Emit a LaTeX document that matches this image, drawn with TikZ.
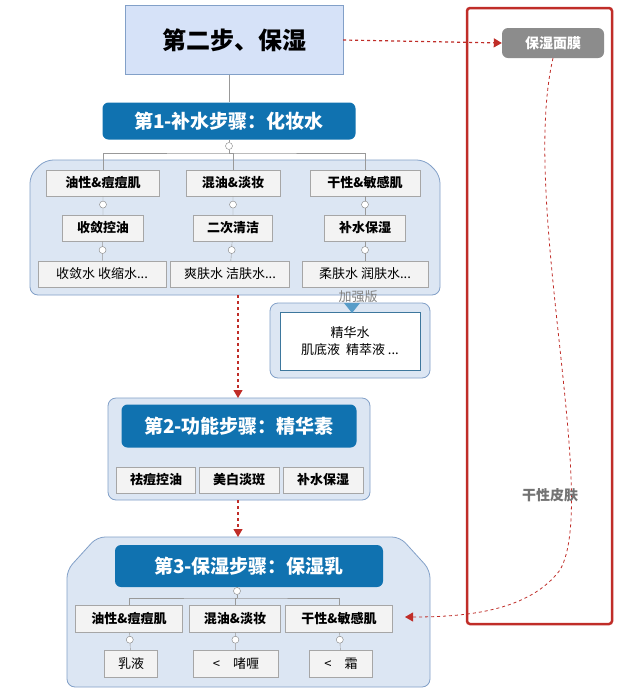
\documentclass[tikz,border=0pt]{standalone}
\usepackage{fontspec}
\newfontfamily\cjk{Noto Sans CJK SC}
\usetikzlibrary{arrows.meta, positioning, shapes.geometric, calc}
\definecolor{hdblue}{RGB}{16, 114, 176}
\definecolor{grpfill}{RGB}{220, 230, 243}
\definecolor{grpline}{RGB}{130, 160, 200}
\definecolor{itemfill}{RGB}{243, 243, 243}
\definecolor{arrred}{RGB}{192, 45, 40}
\definecolor{topfill}{RGB}{214, 226, 248}

\tikzset{
  header/.style={fill=hdblue, rounded corners=6pt, text=white, font=\cjk\bfseries\fontsize{19}{19}\selectfont, inner sep=0pt},
  item/.style={draw=gray!70, fill=itemfill, font=\cjk\bfseries\fontsize{13}{13}\selectfont, inner sep=0pt},
  leaf/.style={draw=gray!70, fill=itemfill, font=\cjk\fontsize{13}{13}\selectfont, inner sep=0pt},
  grp/.style={draw=grpline, fill=grpfill, thick},
  knob/.style={draw=gray, fill=white, circle, inner sep=0pt, minimum size=7pt},
  branch/.style={draw=gray!80},
  redarrow/.style={arrred, dashed, very thick, -{Triangle[length=8pt,width=9pt]}}
}

\begin{document}
\begin{tikzpicture}[x=1pt, y=-1pt]
  \useasboundingbox (0,0) rectangle (621,697);
  \fill[white] (0,0) rectangle (621,697);

  % Top box
  \node[draw=grpline, fill=topfill, minimum width=218pt, minimum height=69pt,
    font=\cjk\bfseries\fontsize{24}{24}\selectfont] (top) at (234,40) {第二步、保湿};

  % STEP 1
  \draw[grp, rounded corners=8pt] (30,295) -- (30,175) -- (45,160) -- (425,160) -- (440,175) -- (440,295) -- cycle;
  \node[header, minimum width=253pt, minimum height=37pt] (hA) at (229,121) {第1-补水步骤：化妆水};
  \draw[branch] (top.south -| hA) -- (hA.north);
  \node[knob] (kA) at (229,146) {};
  \coordinate (bA) at (229,153);
  \draw[branch] (hA) -- (kA) -- (bA);
  \node[item, minimum width=113pt, minimum height=26pt] (a1) at (103,183) {油性\&痘痘肌};
  \node[item, minimum width=94pt, minimum height=26pt] (a2) at (233,183) {混油\&淡妆};
  \node[item, minimum width=110pt, minimum height=26pt] (a3) at (365,183) {干性\&敏感肌};
  \draw[branch] (a1.north) |- (bA) -| (a3.north);
  \draw[branch] (bA) -| (a2.north);
  \node[item, minimum width=81pt, minimum height=26pt] (b1) at (103,228) {收敛控油};
  \node[item, minimum width=79pt, minimum height=26pt] (b2) at (233,228) {二次清洁};
  \node[item, minimum width=81pt, minimum height=26pt] (b3) at (365,228) {补水保湿};
  \node[leaf, minimum width=128pt, minimum height=26pt] (c1) at (102,274) {收敛水 收缩水...};
  \node[leaf, minimum width=119pt, minimum height=26pt] (c2) at (230,274) {爽肤水 洁肤水...};
  \node[leaf, minimum width=126pt, minimum height=26pt] (c3) at (365,274) {柔肤水 润肤水...};
  \foreach \i in {1,2,3} {
    \draw[branch] (a\i) -- (b\i) -- (c\i);
    \node[knob] at ($(a\i.south)!0.45!(b\i.north)$) {};
    \node[knob] at ($(b\i.south)!0.45!(c\i.north)$) {};
  }

  % Enhanced
  \node[font=\cjk\itshape\fontsize{13}{13}\selectfont, text=gray] (plus) at (358,297) {加强版};
  \draw[grp, rounded corners=8pt] (270,303) rectangle (430,378);
  \node[draw=hdblue!60!gray, fill=white, minimum width=140pt, minimum height=58pt, align=center,
    font=\cjk\fontsize{13}{17}\selectfont] (ess) at (350,341) {精华水\\肌底液\ \ 精萃液 ...};
  \fill[hdblue!70] (344,303) -- (360,303) -- (352,313) -- cycle;

  % STEP 2
  \draw[grp, rounded corners=8pt] (108,398) rectangle (370,500);
  \node[header, minimum width=235pt, minimum height=43pt] (hB) at (239,426) {第2-功能步骤：精华素};
  \node[item, minimum width=79pt, minimum height=26pt] (d1) at (156,480) {祛痘控油};
  \node[item, minimum width=80pt, minimum height=26pt] (d2) at (239,480) {美白淡斑};
  \node[item, minimum width=80pt, minimum height=26pt] (d3) at (323,480) {补水保湿};
  \draw[redarrow] (238,295) -- (238,398);

  % STEP 3
  \draw[grp, rounded corners=8pt] (67,687) -- (67,570) -- (97,537) -- (400,537) -- (430,570) -- (430,687) -- cycle;
  \node[header, minimum width=268pt, minimum height=42pt] (hC) at (249,566) {第3-保湿步骤：保湿乳};
  \draw[redarrow] (238,500) -- (238,537);
  \node[knob] (kC) at (237,591) {};
  \coordinate (bC) at (237,598);
  \draw[branch] (hC.south -| kC) -- (kC) -- (bC);
  \node[item, minimum width=107pt, minimum height=27pt] (e1) at (129,619) {油性\&痘痘肌};
  \node[item, minimum width=91pt, minimum height=27pt] (e2) at (235,619) {混油\&淡妆};
  \node[item, minimum width=107pt, minimum height=27pt] (e3) at (339,619) {干性\&敏感肌};
  \draw[branch] (e1.north) |- (bC) -| (e3.north);
  \draw[branch] (bC) -| (e2.north);
  \node[leaf, minimum width=53pt, minimum height=27pt] (f1) at (131,664) {乳液};
  \node[leaf, minimum width=85pt, minimum height=27pt] (f2) at (236,664) {<\quad 啫喱};
  \node[leaf, minimum width=63pt, minimum height=27pt] (f3) at (341,664) {<\quad 霜};
  \foreach \i in {1,2,3} {
    \draw[branch] (e\i) -- (f\i);
    \node[knob] at ($(e\i.south)!0.4!(f\i.north)$) {};
  }

  % Mask branch
  \draw[arrred, line width=2.5pt, rounded corners=3pt] (467,8) rectangle (612,624);
  \node[fill=gray!90, rounded corners=6pt, text=white, minimum width=102pt, minimum height=30pt,
    font=\cjk\bfseries\fontsize{14}{14}\selectfont, inner sep=0pt] (mask) at (553,43) {保湿面膜};
  \draw[redarrow] (top.east) -- (mask.west);
  \coordinate (eIn) at (405,617);
  \draw[redarrow, thick] (mask.south) .. controls (520,200) and (600,500) .. (560,570)
    .. controls (530,610) and (470,617) .. (eIn);
  \node[font=\cjk\bfseries\itshape\fontsize{14}{14}\selectfont, text=gray!90!black] (dry) at (550,495) {干性皮肤};
\end{tikzpicture}
\end{document}
